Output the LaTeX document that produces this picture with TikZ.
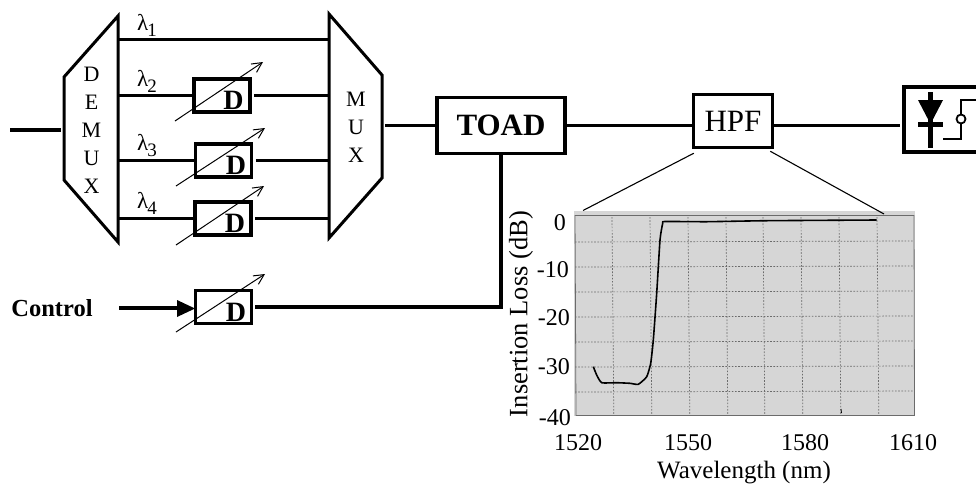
\documentclass[tikz,border=0pt]{standalone}
\usepackage{fontspec}
\setmainfont{Liberation Serif}
\usetikzlibrary{arrows.meta}
\definecolor{plotgray}{gray}{0.84}
\definecolor{gridgray}{gray}{0.42}
\tikzset{
  thick line/.style={line width=3.2pt,black},
  mid line/.style={line width=2.7pt,black},
  thin line/.style={line width=1.1pt,black},
  boxnode/.style={draw=black,line width=3.5pt,fill=white,inner sep=0pt,anchor=center,minimum width=#1},
  dbox/.style={boxnode=56pt,minimum height=33pt},
  tune/.style={line width=1pt,black,-{Straight Barb[length=10pt,width=10pt]}},
  lab/.style={font=\fontsize{22}{28}\selectfont,inner sep=0pt},
  lamlab/.style={inner sep=0pt,anchor=base west},
  dlab/.style={inner sep=0pt,font=\bfseries\fontsize{28}{28}\selectfont},
  ticklab/.style={font=\fontsize{24}{24}\selectfont,inner sep=0pt},
  griddot/.style={gridgray,line width=.7pt,dash pattern=on 1.6pt off 1.6pt},
}
\newcommand{\lam}[1]{{\fontsize{23}{23}\selectfont λ}\kern-1pt\raisebox{-6pt}{\fontsize{19}{19}\selectfont #1}}
\begin{document}
\begin{tikzpicture}[x=1pt,y=-1pt]
\useasboundingbox (0,0) rectangle (976,488);
% coordinates
\coordinate (in) at (10,130);
\coordinate (ctl) at (119,308);
\coordinate (demuxR) at (118,130);
\coordinate (muxL) at (329,130);
% mux / demux
\draw[line width=3pt,fill=white,line join=miter] (118,16) -- (64,77) -- (64,180) -- (118,242) -- cycle;
\draw[line width=3pt,fill=white,line join=miter] (329,14) -- (382,75) -- (382,178) -- (329,238) -- cycle;
\node[lab,align=center] (demuxlab) at (91.500,130) {D\\E\\M\\U\\X};
\node[lab,align=center] (muxlab) at (356,127) {M\\U\\X};
\draw[thick line] (in) -- (61,130);
% boxes
\node[dbox] (d1) at (222,95.500) {};
\node[dbox] (d2) at (223.500,160.500) {};
\node[dbox] (d3) at (223,218.500) {};
\node[dbox] (d4) at (223.500,307) {};
\node[boxnode=128pt,minimum height=56pt,font=\bfseries\fontsize{31}{31}\selectfont] (toad) at (501,125.500) {\raisebox{-2.5pt}{TOAD}};
\node[boxnode=79pt,minimum height=53pt,font=\fontsize{31}{31}\selectfont] (hpf) at (733,121) {\raisebox{-3pt}{HPF}};
% connections
\draw[thick line] (118,39.500) -- (329,39.500);
\draw[thick line] (d1.west -| demuxR) -- (d1.west);
\draw[thick line] ([xshift=2.5pt]d1.east) -- (d1.east -| muxL);
\draw[mid line] (d2.west -| demuxR) -- (d2.west);
\draw[mid line] ([xshift=2.5pt]d2.east) -- (d2.east -| muxL);
\draw[mid line] (d3.west -| demuxR) -- (d3.west);
\draw[mid line] ([xshift=2.5pt]d3.east) -- (d3.east -| muxL);
\coordinate (muxout) at (385,125.500);
\draw[thick line] (muxout) -- (toad.west);
\draw[thick line] (toad.east) -- (toad.east -| hpf.west);
\coordinate (pd) at (900,125.500);
\draw[thick line] (toad.east -| hpf.east) -- (pd);
% control
\draw[thick line] (ctl) -- (180,308);
\fill[black] (177,300) -- (195,308.500) -- (177,317) -- cycle;
\draw[thick line] ([xshift=2pt]d4.east) -| (toad.south);
% tune arrows
\draw[tune] (175,121) -- (263,62);
\draw[tune] (176,186) -- (265,128);
\draw[tune] (176,245) -- (264,186);
\draw[tune] (176,332) -- (265,274);
% D labels
\node[dlab] (da) at (233.500,100) {D};
\node[dlab] (db) at (236,165) {D};
\node[dlab] (dc) at (235,223) {D};
\node[dlab] (dd) at (236,312) {D};
% lambda
\node[lamlab] (l1) at (137,30) {\lam{1}};
\node[lamlab] (l2) at (137,86) {\lam{2}};
\node[lamlab] (l3) at (137,150) {\lam{3}};
\node[lamlab] (l4) at (137,208) {\lam{4}};
\node[inner sep=0pt,font=\bfseries\fontsize{24.5}{24.5}\selectfont] (ctltxt) at (52,308) {Control};
% detector
\draw[line width=3.5pt] (980,87) -- (904,87) -- (904,152) -- (980,152);
\fill[black] (918,100) -- (943,100) -- (930.500,124) -- cycle;
\fill[black] (918,122) rectangle (943,127);
\fill[black] (928,92) rectangle (933,148);
\draw[line width=1.8pt] (976,100) -- (961,100) -- (961,139) -- (943,139);
\draw[line width=1.8pt,fill=white] (961,119) circle (4.500);
% plot
\fill[plotgray] (574,211) rectangle (915,416);
\draw[line width=.8pt,gridgray] (575,215.500) -- (914,215.500) -- (914.500,415.500) -- (576,415.500) -- cycle;
\foreach \x in {612,650,688,726,763,801,839,877}
  \draw[griddot] (\x,217) -- (\x+1.800,415);
\foreach \y in {242,267,292,317,342,367,392}
  \draw[griddot] (575,\y) -- (914,\y-1);
\draw[black,line width=1.6pt,line join=round] plot[smooth,tension=.3] coordinates {
 (593.300,366.700) (596.700,375) (601.700,382.700) (616.700,382.700) (630,383.300) (638.300,384.300) (646.700,376.700) (650.700,363.300) (653.300,340) (656.700,293.300) (660,240) (662.700,223.300) (665,221.500) (706.700,221.700) (766.700,220.700) (876.700,220)};
\draw[black,line width=.8pt] (841,409) -- (841.500,413);
% zoom lines
\coordinate (zl) at (583,210.500);
\coordinate (zr) at (884,214);
\draw[thin line] ([shift={(2pt,-4pt)}]hpf.south west) -- (zl);
\draw[thin line] ([shift={(-4pt,-2pt)}]hpf.south east) -- (zr);
% tick labels
\node[ticklab,anchor=east] (ya) at (566,223) {0};
\node[ticklab,anchor=east] (yb) at (569,270) {-10};
\node[ticklab,anchor=east] (yc) at (570,318) {-20};
\node[ticklab,anchor=east] (yd) at (570,367) {-30};
\node[ticklab,anchor=east] (ye) at (571,418) {-40};
\node[ticklab] (xa) at (578,443) {1520};
\node[ticklab] (xb) at (688,443) {1550};
\node[ticklab] (xc) at (805,443) {1580};
\node[ticklab] (xd) at (913,443) {1610};
\node[inner sep=0pt,font=\fontsize{26.5}{26.5}\selectfont,rotate=90] (ylab) at (521,314) {Insertion Loss (dB)};
\node[inner sep=0pt,font=\fontsize{25}{25}\selectfont] (xlab) at (744,473) {Wavelength (nm)};
\end{tikzpicture}
\end{document}
